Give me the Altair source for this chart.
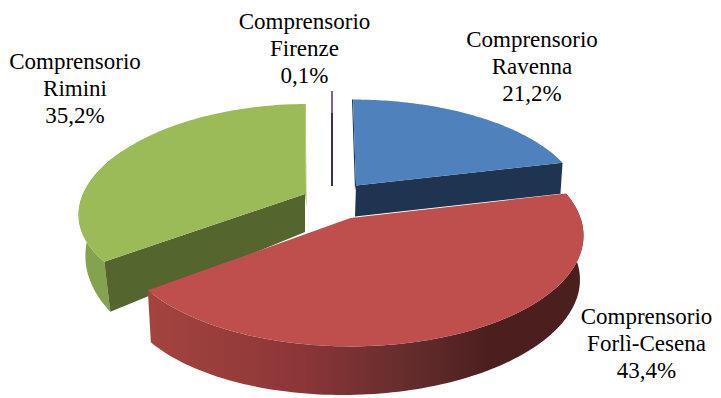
import math
import numpy as np
import pandas as pd
import altair as alt

# --- data
names = ["Ravenna", "Forlì-Cesena", "Rimini", "Firenze"]
shares = [21.2, 43.4, 35.2, 0.1]
label_text = ["21,2%", "43,4%", "35,2%", "0,1%"]

# --- layout of the 3D pie (reference pixels)
W, H = 713, 398
layout = {
    "Ravenna":      dict(ax=356, ay=185.5, R=222, K=101, p=0.175, px=0.175, lean=-3, sx=0.99),
    "Forlì-Cesena": dict(ax=350.5, ay=218, R=230, K=108, p=0.159, px=0.159, lean=0, sx=0.985),
    "Rimini":       dict(ax=305, ay=194, R=222, K=102.5, p=0.139, px=0.188, lean=2, sx=0.97),
    "Firenze":      dict(ax=332, ay=155, R=229, K=64, p=0.0, px=0.0, lean=0, sx=1.0),
}
label_pos = {
    "Ravenna": (532, 40), "Forlì-Cesena": (646.5, 317), "Rimini": (75, 62), "Firenze": (304.5, 22),
}
colors = {
    "blue": "#4f81bd", "blue_dark": "#1f3450",
    "red": "#be4f4c",
    "green": "#9bbb59", "green_dark": "#54652e", "green_side": "#84a34e",
    "purple": "#7d62a0", "purple_dark": "#3c2f52",
}
red_side = alt.Gradient(
    gradient="linear", x1=0, x2=1, y1=0, y2=0,
    stops=[
        alt.GradientStop(offset=0.0, color="#a4443f"),
        alt.GradientStop(offset=0.35, color="#8c3638"),
        alt.GradientStop(offset=0.62, color="#622b2b"),
        alt.GradientStop(offset=0.78, color="#4c1f1f"),
        alt.GradientStop(offset=1.0, color="#4c1f1f"),
    ],
)

# angles from the shares (clockwise from 12 o'clock)
total = sum(shares)
bounds = {}
acc = 0.0
for n, s in zip(names, shares):
    bounds[n] = (acc / total * 2 * math.pi, (acc + s) / total * 2 * math.pi)
    acc += s


def top(n, t):
    g = layout[n]
    u, v = math.sin(t), math.cos(t)
    return (
        g["ax"] + g["R"] * u / (1 + g["px"] * v) + g["lean"] * v,
        g["ay"] - g["K"] * v / (1 + g["p"] * v),
    )


def bottom(n, t, depth):
    g = layout[n]
    x, y = top(n, t)
    return (g["ax"] + (x - g["ax"]) * g["sx"], y + depth(t))


def arc(n, a, b, steps=80):
    return list(np.linspace(a, b, steps))


xs = alt.Scale(domain=[8, W], range=[0, W - 8])
ys = alt.Scale(domain=[H, 8], range=[H - 8, 0])


def poly(points, fill):
    df = pd.DataFrame(
        {"px": [p[0] for p in points], "py": [p[1] for p in points], "i": range(len(points))}
    )
    return (
        alt.Chart(df)
        .mark_line(fill=fill, strokeWidth=0, interpolate="linear-closed")
        .encode(
            x=alt.X("px:Q", scale=xs, axis=None),
            y=alt.Y("py:Q", scale=ys, axis=None),
            order="i:Q",
        )
    )


layers = []

# Rimini
n = "Rimini"
a, b = bounds[n]
d_green = lambda t: 38 / (1 + 0.4 * math.cos(t))
ap = (layout[n]["ax"], layout[n]["ay"])
side_ts = arc(n, a, a + (b - a) * 0.5)
layers.append(poly([top(n, t) for t in side_ts] + [bottom(n, t, d_green) for t in reversed(side_ts)], colors["green_side"]))
layers.append(poly([ap, top(n, a), bottom(n, a, d_green), (ap[0], ap[1] + 38)], colors["green_dark"]))
layers.append(poly([ap] + [top(n, t) for t in arc(n, a, b)], colors["green"]))
layers.append(poly([ap, top(n, b), (ap[0] + 1.5, ap[1] + 13)], colors["green"]))

# Firenze
n = "Firenze"
a, b = bounds[n]
ap = (layout[n]["ax"], layout[n]["ay"])
t0 = top(n, 2 * math.pi)
layers.append(poly([(t0[0] - 1, t0[1]), (t0[0] + 1, t0[1]), (t0[0] + 1, ap[1] + 31), (t0[0] - 1, ap[1] + 31)], colors["purple_dark"]))
layers.append(poly([(t0[0] - 1, t0[1]), (t0[0] + 1, t0[1]), (t0[0] + 1, t0[1] + 22), (t0[0] - 1, t0[1] + 22)], colors["purple"]))

# Ravenna
n = "Ravenna"
a, b = bounds[n]
d_blue = lambda t: 31
ap = (layout[n]["ax"], layout[n]["ay"])
layers.append(poly([ap, top(n, b), bottom(n, b, d_blue), (ap[0] - 1, ap[1] + 31)], colors["blue_dark"]))
tp = top(n, a)
layers.append(poly([(tp[0] - 1, tp[1]), tp, ap, (ap[0] - 1, ap[1] + 5)], colors["blue_dark"]))
layers.append(poly([ap] + [top(n, t) for t in arc(n, a, b)], colors["blue"]))

# Forlì-Cesena
n = "Forlì-Cesena"
a, b = bounds[n]
d_red = lambda t: 48.5 - 4.5 * math.sin(t)
ap = (layout[n]["ax"], layout[n]["ay"])
ts = arc(n, a, b, 120)
layers.append(poly([top(n, t) for t in ts] + [bottom(n, t, d_red) for t in reversed(ts)], red_side))
layers.append(poly([ap] + [top(n, t) for t in ts], colors["red"]))

# Labels
label_df = pd.DataFrame(
    {
        "label": [f"Comprensorio\n{nm}\n{lb}" for nm, lb in zip(names, label_text)],
        "lx": [label_pos[nm][0] for nm in names],
        "ly": [label_pos[nm][1] for nm in names],
    }
)
layers.append(
    alt.Chart(label_df)
    .mark_text(font="Liberation Serif", fontSize=23, lineBreak="\n", lineHeight=27, align="center", baseline="middle", color="#000000")
    .encode(
        x=alt.X("lx:Q", scale=xs, axis=None),
        y=alt.Y("ly:Q", scale=ys, axis=None),
        text="label:N",
    )
)

chart = (
    alt.layer(*layers)
    .properties(width=W - 8, height=H - 8, padding=0, background="#ffffff", autosize=alt.AutoSizeParams(type="none"))
    .configure_view(stroke=None)
)
chart.save("out.html", embed_options={"renderer": "svg", "actions": False})
